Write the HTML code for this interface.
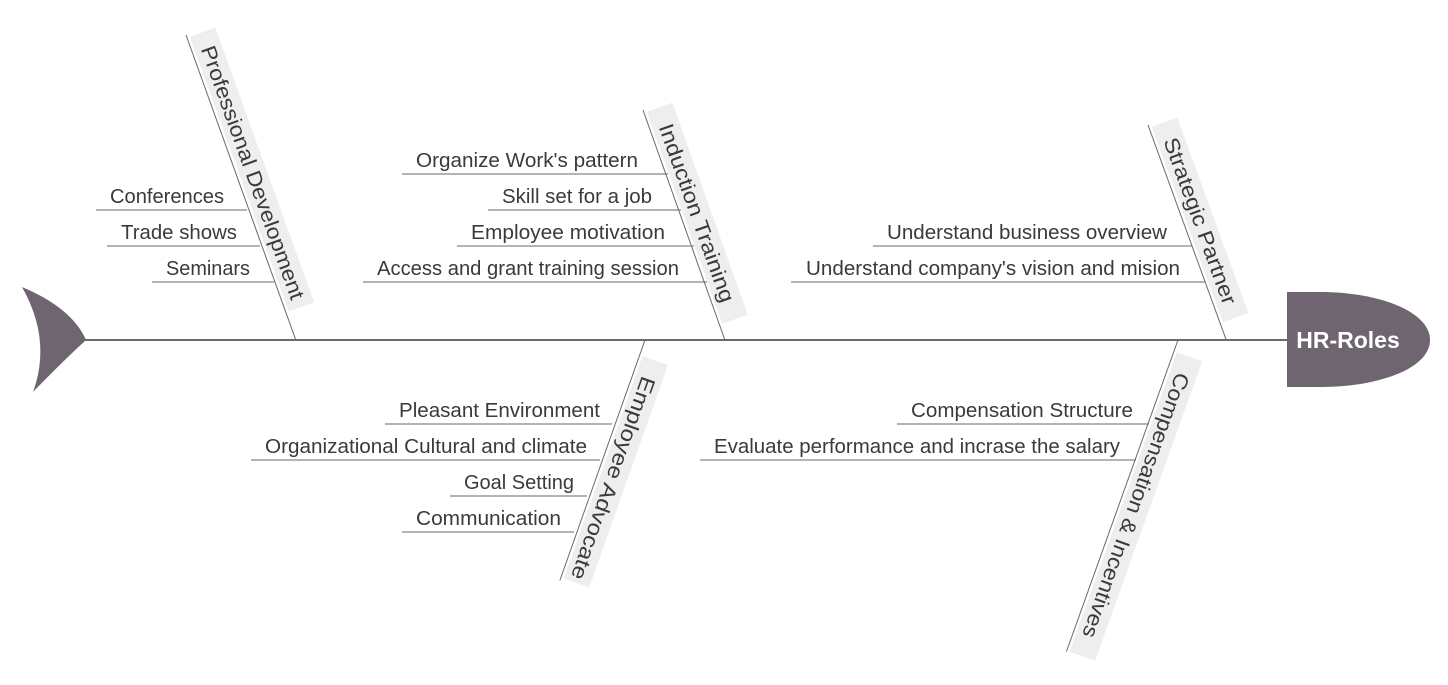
<!DOCTYPE html>
<html><head><meta charset="utf-8"><style>
html,body{margin:0;padding:0;background:#fff;}
svg{display:block;font-family:"Liberation Sans",sans-serif;}
.s{font-size:20px;fill:#3a3a3a;text-anchor:end;}
.b{font-size:21px;fill:#3a3a3a;}
.ln{stroke:#6f6570;stroke-width:1;}
</style></head><body>
<svg width="1448" height="685" viewBox="0 0 1448 685" xmlns="http://www.w3.org/2000/svg">
<rect width="1448" height="685" fill="#fff"/>
<line x1="80" y1="340" x2="1290" y2="340" stroke="#6f6570" stroke-width="2"/>
<path d="M22,287 Q72,308 86,340 Q62,362 33,392 Q52,340 22,287 Z" fill="#6f6570"/>
<path d="M1287,292 L1320,292 C1380,292 1430,312 1430,340 C1430,368 1380,387 1320,387 L1287,387 Z" fill="#6f6570"/>
<text x="1348" y="348" font-size="23" font-weight="bold" fill="#fff" text-anchor="middle">HR-Roles</text>

<g transform="translate(186,35) rotate(70.2)">
<rect x="3" y="-30" width="292" height="27" fill="#efeeef"/>
<line x1="0" y1="0" x2="324" y2="0" class="ln"/>
<text x="18" y="-9" class="b" textLength="268" lengthAdjust="spacingAndGlyphs">Professional Development</text>
</g>
<g class="ln"><line x1="96" y1="210" x2="247" y2="210"/><line x1="107" y1="246" x2="260" y2="246"/><line x1="152" y1="282" x2="274" y2="282"/></g>
<text x="224" y="203" class="s" textLength="114" lengthAdjust="spacingAndGlyphs">Conferences</text>
<text x="237" y="239" class="s" textLength="116" lengthAdjust="spacingAndGlyphs">Trade shows</text>
<text x="250" y="275" class="s" textLength="84" lengthAdjust="spacingAndGlyphs">Seminars</text>

<g transform="translate(643,110) rotate(70.4)">
<rect x="3" y="-30" width="225" height="27" fill="#efeeef"/>
<line x1="0" y1="0" x2="244" y2="0" class="ln"/>
<text x="21" y="-9" class="b" textLength="188" lengthAdjust="spacingAndGlyphs">Induction Training</text>
</g>
<g class="ln"><line x1="402" y1="174" x2="668" y2="174"/><line x1="488" y1="210" x2="681" y2="210"/><line x1="457" y1="246" x2="694" y2="246"/><line x1="363" y1="282" x2="707" y2="282"/></g>
<text x="638" y="167" class="s" textLength="222" lengthAdjust="spacingAndGlyphs">Organize Work's pattern</text>
<text x="652" y="203" class="s" textLength="150" lengthAdjust="spacingAndGlyphs">Skill set for a job</text>
<text x="665" y="239" class="s" textLength="194" lengthAdjust="spacingAndGlyphs">Employee motivation</text>
<text x="679" y="275" class="s" textLength="302" lengthAdjust="spacingAndGlyphs">Access and grant training session</text>

<g transform="translate(1148,125) rotate(70)">
<rect x="3" y="-30" width="208" height="27" fill="#efeeef"/>
<line x1="0" y1="0" x2="229" y2="0" class="ln"/>
<text x="20" y="-9" class="b" textLength="176" lengthAdjust="spacingAndGlyphs">Strategic Partner</text>
</g>
<g class="ln"><line x1="873" y1="246" x2="1192" y2="246"/><line x1="791" y1="282" x2="1205" y2="282"/></g>
<text x="1167" y="239" class="s" textLength="280" lengthAdjust="spacingAndGlyphs">Understand business overview</text>
<text x="1180" y="275" class="s" textLength="374" lengthAdjust="spacingAndGlyphs">Understand company's vision and mision</text>

<g transform="translate(645,340) rotate(109.5)">
<rect x="16" y="-30" width="236" height="27" fill="#efeeef"/>
<line x1="0" y1="0" x2="255" y2="0" class="ln"/>
<text x="34" y="-9" class="b" textLength="214" lengthAdjust="spacingAndGlyphs">Employee Advocate</text>
</g>
<g class="ln"><line x1="385" y1="424" x2="612" y2="424"/><line x1="251" y1="460" x2="600" y2="460"/><line x1="450" y1="496" x2="587" y2="496"/><line x1="402" y1="532" x2="574" y2="532"/></g>
<text x="600" y="417" class="s" textLength="201" lengthAdjust="spacingAndGlyphs">Pleasant Environment</text>
<text x="587" y="453" class="s" textLength="322" lengthAdjust="spacingAndGlyphs">Organizational Cultural and climate</text>
<text x="574" y="489" class="s" textLength="110" lengthAdjust="spacingAndGlyphs">Goal Setting</text>
<text x="561" y="525" class="s" textLength="145" lengthAdjust="spacingAndGlyphs">Communication</text>

<g transform="translate(1178,340) rotate(109.7)">
<rect x="12" y="-30" width="318" height="27" fill="#efeeef"/>
<line x1="0" y1="0" x2="331" y2="0" class="ln"/>
<text x="30" y="-9" class="b" textLength="280" lengthAdjust="spacingAndGlyphs">Compensation &amp; Incentives</text>
</g>
<g class="ln"><line x1="897" y1="424" x2="1149" y2="424"/><line x1="700" y1="460" x2="1136" y2="460"/></g>
<text x="1133" y="417" class="s" textLength="222" lengthAdjust="spacingAndGlyphs">Compensation Structure</text>
<text x="1120" y="453" class="s" textLength="406" lengthAdjust="spacingAndGlyphs">Evaluate performance and incrase the salary</text>
</svg>
</body></html>
